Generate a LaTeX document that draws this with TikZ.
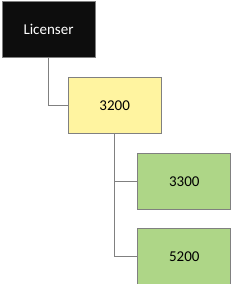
\documentclass[tikz,border=0pt]{standalone}
\usepackage{fontspec}
\setmainfont{Carlito}
\usetikzlibrary{positioning}
\definecolor{licfill}{HTML}{0D0D0D}
\definecolor{midfill}{HTML}{FFF4A0}
\definecolor{leaffill}{HTML}{AED687}
\definecolor{edgegray}{HTML}{808080}

\begin{document}
\begin{tikzpicture}[x=1pt,y=1pt,node distance=19pt,
  box/.style={draw=edgegray,line width=0.9pt,minimum width=93pt,minimum height=56pt,inner sep=0pt,font=\fontsize{15}{18}\selectfont},
  link/.style={draw=edgegray,line width=0.9pt}]
\useasboundingbox (0,0) rectangle (232,-284);
\node[box,fill=licfill,text=white] (lic) at (48.5,-29.5) {Licenser};
\node[box,fill=midfill,below right=19pt and -27.7pt of lic] (n3200) {3200};
\node[box,fill=leaffill,below right=19pt and -24.3pt of n3200] (n3300) {3300};
\node[box,fill=leaffill,below=18.6pt of n3300] (n5200) {5200};
\draw[link] (lic.south) |- (n3200.west);
\draw[link] (n3200.south) |- (n3300.west);
\draw[link] (n3200.south) |- (n5200.west);
\end{tikzpicture}
\end{document}
